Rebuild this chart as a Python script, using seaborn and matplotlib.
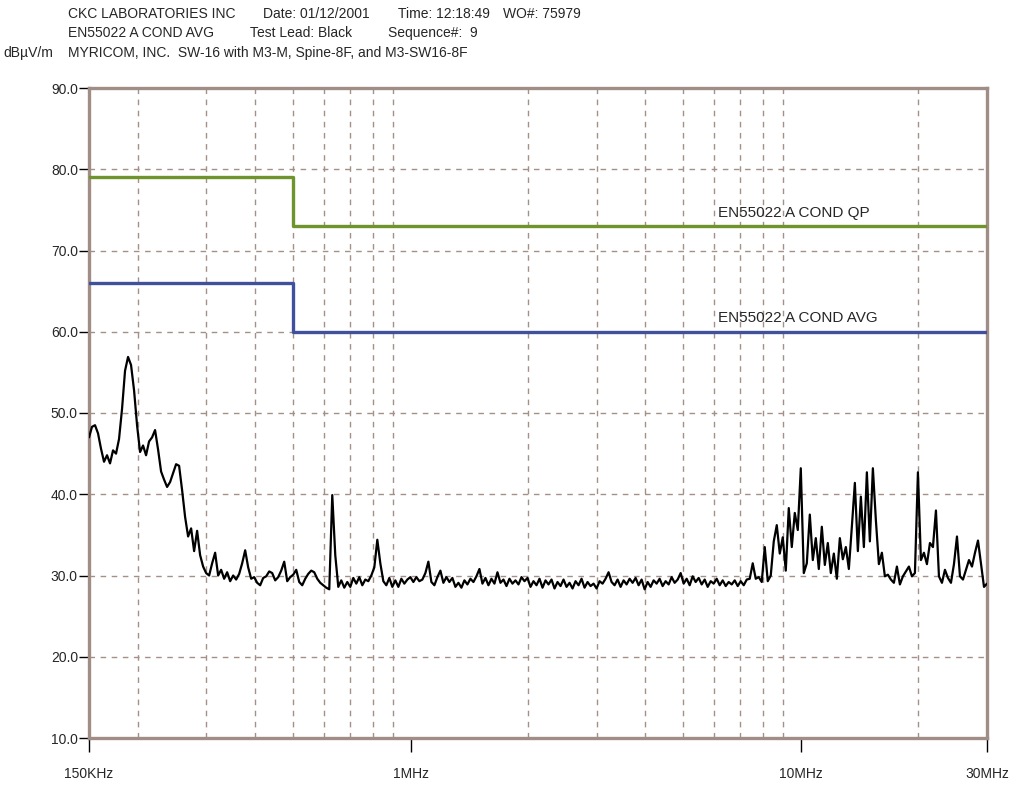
import numpy as np
import pandas as pd
import matplotlib
matplotlib.use("Agg")
import matplotlib.pyplot as plt
from matplotlib.ticker import FixedLocator, FixedFormatter, NullFormatter
import seaborn as sns

# Measured average conducted emissions, one level per sweep point (dBuV)
levels = [
    47.0, 48.3, 48.5, 47.5, 45.6, 44.0, 44.8, 43.8, 45.4, 45.0,
    46.8, 50.5, 55.2, 56.9, 55.9, 52.8, 48.5, 45.2, 46.0, 44.8,
    46.5, 47.0, 47.9, 45.5, 42.8, 41.8, 40.9, 41.5, 42.6, 43.7,
    43.5, 40.5, 37.2, 34.8, 35.8, 33.0, 35.5, 32.5, 31.1, 30.3,
    30.0, 31.5, 32.8, 30.0, 30.7, 29.6, 30.4, 29.3, 30.0, 29.5,
    30.2, 31.5, 33.1, 31.0, 29.6, 29.8, 29.1, 28.8, 29.7, 29.9,
    30.5, 30.3, 29.4, 29.8, 30.6, 31.7, 29.3, 29.8, 30.1, 30.7,
    29.2, 28.8, 29.6, 30.2, 30.6, 30.4, 29.6, 29.1, 28.8, 28.5,
    28.3, 39.9, 32.5, 28.6, 29.4, 28.5, 29.2, 28.6, 29.7, 29.0,
    29.8, 28.8, 29.5, 29.3, 30.0, 31.0, 34.4, 31.5, 29.3, 28.8,
    29.7, 28.6, 29.4, 28.6, 29.6, 29.0, 29.5, 29.8, 29.2, 29.8,
    29.3, 29.5, 30.3, 31.7, 29.2, 28.8, 29.8, 30.6, 29.1, 29.8,
    29.2, 29.7, 28.6, 29.1, 28.5, 29.4, 28.9, 29.6, 29.2, 29.9,
    30.8, 29.0, 29.7, 28.8, 29.6, 29.0, 30.4, 29.1, 29.5, 28.7,
    29.6, 29.0, 29.4, 28.9, 29.8, 29.3, 29.7, 28.6, 29.3, 28.8,
    29.6, 28.5, 29.4, 28.9, 29.5, 28.4, 29.2, 28.7, 29.5, 28.6,
    29.1, 28.4, 29.3, 28.8, 29.6, 28.5, 29.2, 28.7, 29.0, 28.4,
    29.3, 29.0, 29.6, 30.4, 29.2, 28.8, 29.5, 28.6, 29.4, 28.9,
    29.6, 29.1, 29.7, 28.8, 29.5, 28.3, 29.2, 28.6, 29.4, 29.0,
    29.6, 28.7, 29.3, 28.9, 29.8, 29.1, 29.5, 30.3, 29.0, 29.6,
    28.8, 29.9, 29.2, 29.7, 28.9, 29.5, 28.6, 29.3, 29.0, 29.6,
    28.8, 29.4, 28.7, 29.2, 28.9, 29.4, 28.7, 29.3, 28.8, 29.5,
    29.6, 31.5, 29.6, 29.8, 29.2, 33.5, 29.3, 30.0, 34.2, 36.2,
    32.7, 34.7, 30.6, 38.3, 33.5, 37.7, 35.6, 43.2, 30.3, 31.5,
    37.5, 31.9, 34.6, 30.8, 36.0, 31.3, 34.0, 30.3, 32.7, 29.6,
    34.6, 32.0, 33.5, 30.8, 36.0, 41.4, 33.0, 39.7, 33.5, 42.7,
    34.2, 43.2, 36.8, 31.4, 32.8, 29.9, 30.1, 29.5, 29.1, 31.1,
    28.9, 29.9, 30.5, 31.1, 29.9, 30.3, 42.7, 31.9, 32.8, 31.4,
    34.0, 33.5, 38.0, 29.9, 29.1, 30.7, 29.7, 29.1, 31.4, 34.8,
    29.9, 29.5, 30.7, 31.9, 31.1, 32.8, 34.3, 31.4, 28.6, 29.0,
]

# Sweep: log-spaced receiver steps across the band (MHz)
f_start, f_stop = 0.15, 30.0
freq_mhz = np.geomspace(f_start, f_stop, len(levels))

# EN55022 class A conducted limits (MHz, dBuV)
limit_freq = [0.15, 0.5, 0.5, 30.0]
qp_limit = [79.0, 79.0, 73.0, 73.0]
avg_limit = [66.0, 66.0, 60.0, 60.0]

# Axis annotation
y_ticks = [10, 20, 30, 40, 50, 60, 70, 80, 90]
x_major = [0.15, 1.0, 10.0, 30.0]
x_major_labels = ["150KHz", "1MHz", "10MHz", "30MHz"]
x_grid = [0.2, 0.3, 0.4, 0.5, 0.6, 0.7, 0.8, 0.9,
          2, 3, 4, 5, 6, 7, 8, 9, 20]

sns.set_theme(style="white")
plt.rcParams["font.family"] = ["Liberation Sans", "DejaVu Sans"]

W, H = 1018, 786
fig = plt.figure(figsize=(W / 100, H / 100), dpi=100)
ax = fig.add_axes([89 / W, 1 - 738 / H, (987 - 89) / W, (738 - 88) / H])

frame_col = "#a08e86"
grid_col = "#a39189"

trace = pd.DataFrame({"freq": freq_mhz, "level": levels})
lim = pd.DataFrame({"freq": limit_freq, "qp": qp_limit, "avg": avg_limit})

sns.lineplot(data=lim, x="freq", y="qp", ax=ax, color="#6f942c", lw=2.4,
             sort=False, estimator=None, zorder=3)
sns.lineplot(data=lim, x="freq", y="avg", ax=ax, color="#41509c", lw=2.4,
             sort=False, estimator=None, zorder=3)
sns.lineplot(data=trace, x="freq", y="level", ax=ax, color="black", lw=1.6,
             sort=False, estimator=None, zorder=4)

ax.set_xscale("log")
ax.set_xlim(f_start, f_stop)
ax.set_ylim(10, 90)
ax.set_xlabel("")
ax.set_ylabel("")

ax.xaxis.set_major_locator(FixedLocator(x_major))
ax.xaxis.set_major_formatter(FixedFormatter(x_major_labels))
ax.xaxis.set_minor_locator(FixedLocator(x_grid))
ax.xaxis.set_minor_formatter(NullFormatter())
ax.yaxis.set_major_locator(FixedLocator(y_ticks))
ax.set_yticklabels([f"{v:.1f}" for v in y_ticks])

ax.tick_params(axis="x", which="major", direction="out", length=10, width=1,
               color="black", labelsize=10, pad=11, bottom=True)
ax.tick_params(axis="x", which="minor", length=0)
ax.tick_params(axis="y", which="major", direction="out", length=7, width=1,
               color="black", labelsize=10, pad=1, left=True)

# dashed grid: horizontal at every 10 dB, vertical at each decade subdivision
for v in y_ticks[1:-1]:
    ax.axhline(v, color=grid_col, lw=1.0, ls=(0, (4, 4)), zorder=1)
for v in x_grid:
    ax.axvline(v, color=grid_col, lw=1.0, ls=(0, (4, 4)), zorder=1)

for sp in ax.spines.values():
    sp.set_visible(True)
    sp.set_color(frame_col)
    sp.set_linewidth(2.4)

label_f = 6.15
ax.text(label_f, 73.8, "EN55022 A COND QP", fontsize=11,
        ha="left", va="bottom", zorder=5)
ax.text(label_f, 60.8, "EN55022 A COND AVG", fontsize=11,
        ha="left", va="bottom", zorder=5)

def header(x, y, s):
    fig.text(x / W, 1 - y / H, s, fontsize=10, ha="left", va="center")

header(68, 14, "CKC LABORATORIES INC")
header(263, 14, "Date: 01/12/2001")
header(398, 14, "Time: 12:18:49")
header(503, 14, "WO#: 75979")
header(68, 33, "EN55022 A COND AVG")
header(250, 33, "Test Lead: Black")
header(388, 33, "Sequence#:  9")
header(3, 53, "dBµV/m")
header(68, 53, "MYRICOM, INC.  SW-16 with M3-M, Spine-8F, and M3-SW16-8F")

fig.savefig("out.png", dpi=100)
